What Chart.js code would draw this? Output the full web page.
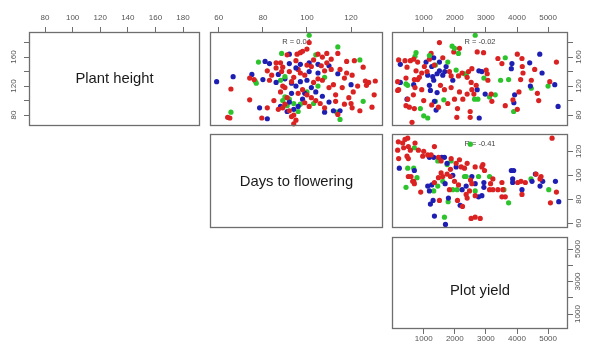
<!DOCTYPE html>
<html><head><meta charset="utf-8">
<script src="https://cdn.jsdelivr.net/npm/chart.js@4.4.1/dist/chart.umd.min.js"></script>
<style>
html,body{margin:0;padding:0;background:#fff;width:589px;height:348px;overflow:hidden;}
#wrap{position:relative;width:589px;height:348px;}
canvas{position:absolute;}
</style></head><body><div id="wrap"></div>
<script>
// ---------- data ----------
const variableNames = ['Plant height', 'Days to flowering', 'Plot yield'];
const corrLabels = ['R = 0.04', 'R = -0.02', 'R = -0.41'];
const heightTicks = [80, 100, 120, 140, 160, 180];
const heightSideLabels = [80, 120, 160];
const daysTicks = [60, 80, 100, 120];
const yieldTicks = [1000, 2000, 3000, 4000, 5000];
const yieldSideLabels = [1000, 3000, 5000];
const heightRangeX = [68.4, 192.3];
const heightRangeY = [65, 194.5];
const daysRange = [56, 134.5];
const yieldRangeX = [-20, 5640];
const yieldRangeY = [77, 5739];

// Plant height (y) vs days to flowering (x): [days, height]
const htDays_red = [[64,77],[65,76],[65.5,116],[74,101],[82,90],[79.5,76],[82,141],[76,129],[83,128],[74,131],[86,152],[88,152],[91,163],[95.5,164],[97,166],[98,168],[100,171],[101,180],[105,164],[109,165],[114,165],[118,154],[121.5,155],[125.5,146],[86,145],[88.5,140],[89,146],[96,143],[100,149],[102,147],[106.5,148],[109,152],[108,141],[111,143],[115,143],[118,138],[117,131],[120.5,135],[126.5,127],[128,125],[127,121],[131,127],[130.5,108],[121,112],[129.5,91],[124,86],[120,96],[120.5,90],[117,95],[114,81],[113,99],[89,120],[90,118],[88,112],[91,104],[90,95],[89,90],[92,86],[93,78],[95,73],[94,80],[96,110],[98,115],[100,108],[102,104],[104,100],[106,96],[108,90],[103,125],[105,130],[107,128],[110,118],[112,122],[99,135],[97,138],[94,132],[93,126],[92,140],[101,92],[99,97],[85,100],[87,88],[113,108],[116,118],[119,104],[123,120],[84,135],[95,155],[111,157],[107,160],[103,156],[94,68]];
const htDays_blue = [[59,126],[66.5,133],[78.5,90],[82,75],[81,154],[83,151],[75,136],[80,129],[92,151],[92,164],[97,150],[101,152],[105,150],[110,148],[114,137],[115,86],[110,98],[87,136],[90,130],[93,124],[95,120],[97,126],[100,128],[102,118],[98,102],[96,92],[92,98],[91,85],[94,88],[104,112],[107,106],[108,84],[112,86],[88,92],[101,140],[105,138],[95,145],[120,122],[86,125],[99,110],[93,110]];
const htDays_green = [[65.5,84],[78,153],[76.5,127],[77,124],[88.5,165],[101,190],[104,163],[114,174],[124,156],[125.5,99],[115,74],[113.5,84],[89,100],[90,105],[92,102],[94,96],[97,95],[100,112],[88,128],[90,133],[105,120],[108,132],[103,96],[96,85],[91,93]];

// Plant height (y) vs plot yield (x): [yield, height]
const htYield_red = [[1505,180],[1968,167],[2150,172],[2720,167],[2924,166],[194,156],[398,155],[570,155],[463,146],[677,157],[806,153],[1183,157],[1237,165],[1613,159],[1344,149],[1021,147],[753,141],[936,138],[1107,140],[860,132],[699,129],[430,131],[162,126],[162,114],[806,129],[1828,140],[1882,134],[2118,134],[2236,138],[2440,140],[2548,144],[2397,132],[3010,142],[3042,137],[3064,128],[2526,125],[2688,121],[2548,115],[2613,109],[3170,109],[3192,99],[3386,158],[3515,151],[4010,164],[4160,158],[4170,147],[4193,138],[4117,129],[4063,112],[3870,101],[3623,93],[4010,88],[4569,143],[4461,128],[4655,110],[4698,100],[5053,126],[5268,153],[484,102],[430,93],[538,91],[699,89],[624,70],[1000,100],[1258,94],[1473,91],[1774,96],[1990,102],[2258,102],[2397,109],[2086,89],[2065,77],[2494,85],[2494,77],[2150,112],[1882,118],[1667,115],[1538,121],[936,115],[720,118],[667,108],[194,115]];
const htYield_blue = [[248,150],[1075,153],[1322,159],[1505,153],[1720,147],[1258,147],[1129,135],[248,125],[677,122],[1290,133],[1322,128],[1430,137],[1505,141],[1613,135],[1677,140],[1935,128],[2774,141],[2870,140],[2720,115],[2977,109],[3817,144],[3837,151],[4408,152],[3924,108],[3900,97],[4430,120],[4731,164],[4806,138],[5214,122],[5321,92],[1344,99],[1398,87],[2785,76],[1215,114],[1430,111],[1183,121],[463,102]];
const htYield_green = [[2655,190],[1914,175],[1990,172],[2118,165],[753,166],[720,161],[1774,153],[1376,149],[2043,142],[2311,137],[2365,136],[2935,131],[430,123],[484,121],[2635,102],[2741,102],[3117,105],[3300,108],[3472,128],[3730,129],[3623,159],[3892,85],[4461,117],[4999,120],[892,89],[1000,79],[1129,76],[1376,99],[1645,101],[1183,162]];

// Days to flowering (y) vs plot yield (x): [yield, days]
const daysYield_red = [[183,128],[323,127],[398,130],[484,131],[162,121],[355,123],[505,124],[720,127],[570,121],[828,121],[1000,120],[968,116],[194,114],[505,114],[463,116],[1344,124],[1129,117],[1473,115],[1559,112],[1237,117],[1882,114],[2150,113],[2043,110],[2397,110],[2311,106],[1860,105],[2204,107],[2655,107],[2870,107],[2903,109],[2956,104],[3117,88],[3224,88],[3386,88],[3515,94],[3547,88],[3515,82],[3623,82],[4020,94],[4160,84],[4128,95],[4268,94],[4612,101],[4773,99],[4741,97],[5268,86],[5075,77],[5128,131],[505,99],[591,99],[677,95],[699,93],[645,95],[903,86],[1344,94],[1473,98],[1559,102],[1613,99],[1752,101],[1860,99],[1990,95],[1828,88],[2118,92],[2505,96],[2472,87],[2548,93],[2365,84],[2397,81],[3150,93],[3224,97],[1505,79],[2247,74],[2526,64],[2655,65],[2817,64],[2086,79],[2655,83]];
const daysYield_blue = [[1183,115],[1322,115],[1581,115],[1667,115],[1752,110],[2043,107],[2548,99],[2655,93],[2935,94],[2935,90],[3817,104],[3892,104],[3860,97],[3860,94],[4160,88],[4483,95],[4590,101],[4741,91],[4827,95],[5236,95],[5343,78],[215,106],[699,104],[1129,91],[1258,92],[1688,93],[1935,100],[2236,88],[2365,91],[2763,82],[2870,83],[1301,79],[2172,75],[1344,66],[1699,59],[1795,81],[1183,87],[1215,76]];
const daysYield_green = [[699,123],[1452,112],[1882,112],[1752,109],[2311,99],[2365,99],[2763,99],[3117,99],[3580,88],[3730,77],[4450,97],[5021,88],[484,106],[677,106],[785,98],[430,90],[1452,91],[1322,87],[1613,95],[1935,88],[2075,88],[2655,87],[1785,78],[1667,65],[2500,126]];

// ---------- layout / style ----------
const COLOR = {red:'#da2222', blue:'#1e1eb2', green:'#2cc32c'};
const colL = [29, 210, 392], colW = [171, 173, 176];
const rowT = [32, 134, 237], rowH = [94, 94, 92];
const PAD = 12, AXH = 30, AXW = 30;
const TICK_FONT = {family:"'Liberation Sans Narrow','Arial Narrow','Liberation Sans',Arial,sans-serif", size:8};

function mixPoints(red, blue, green){
  const pts = [], cols = [];
  const n = Math.max(red.length, blue.length, green.length);
  for (let i = 0; i < n; i++){
    [[red,'red'],[blue,'blue'],[green,'green']].forEach(([arr,c]) => {
      if (i < arr.length){ pts.push({x:arr[i][0], y:arr[i][1]}); cols.push(COLOR[c]); }
    });
  }
  return {pts, cols};
}

const deco = {
  id:'deco',
  beforeDatasetsDraw(chart, args, o){
    const a = chart.chartArea, ctx = chart.ctx;
    ctx.save();
    ctx.textAlign = 'center'; ctx.textBaseline = 'middle';
    if (o.corr){
      ctx.font = '7.5px "Liberation Sans", Arial, sans-serif';
      ctx.fillStyle = '#444';
      ctx.fillText(o.corr, (a.left + a.right)/2, a.top + 10);
    }
    if (o.name){
      ctx.font = '14.8px "Liberation Sans", Arial, sans-serif';
      ctx.fillStyle = '#1a1a1a';
      ctx.fillText(o.name, (a.left + a.right)/2, a.top + o.nameDy);
    }
    ctx.restore();
  },
  afterDraw(chart){
    const a = chart.chartArea, ctx = chart.ctx;
    ctx.save();
    ctx.strokeStyle = '#6e6e6e'; ctx.lineWidth = 1.3;
    ctx.strokeRect(Math.round(a.left)+0.5, Math.round(a.top)+0.5, Math.round(a.right-a.left)-1, Math.round(a.bottom-a.top)-1);
    ctx.restore();
  }
};

function scaleCfg(ax, horizontal){
  return {
    type:'linear', min:ax.range[0], max:ax.range[1],
    display: !!ax.pos,
    position: ax.pos || (horizontal ? 'bottom' : 'left'),
    afterBuildTicks: s => { s.ticks = ax.ticks.map(v => ({value:v})); },
    afterFit: s => {
      if (!ax.pos) { s.width = 0; s.height = 0; return; }
      if (horizontal) s.height = AXH; else s.width = AXW;
    },
    grid:{display:true, drawOnChartArea:false, drawTicks:true, tickLength:5, color:'#6e6e6e', lineWidth:1},
    border:{display:false},
    ticks:{
      autoSkip:false, font:TICK_FONT, color:'#555', padding:(ax.pad ?? 3),
      minRotation: horizontal ? 0 : 90, maxRotation: horizontal ? 0 : 90,
      crossAlign: horizontal ? 'near' : 'center',
      callback: v => ax.labels.includes(v) ? String(v) : ''
    }
  };
}

function panel(p){
  const L = colL[p.col], W = colW[p.col], T = rowT[p.row], H = rowH[p.row];
  const xTop = p.x.pos === 'top', xBot = p.x.pos === 'bottom';
  const yL = p.y.pos === 'left', yR = p.y.pos === 'right';
  const left = L - PAD - (yL ? AXW : 0), top = T - PAD - (xTop ? AXH : 0);
  const w = 2*PAD + W + (yL || yR ? AXW : 0), h = 2*PAD + H + (xTop || xBot ? AXH : 0);
  const cv = document.createElement('canvas');
  cv.width = w; cv.height = h;
  cv.style.left = left + 'px'; cv.style.top = top + 'px';
  cv.style.width = w + 'px'; cv.style.height = h + 'px';
  document.getElementById('wrap').appendChild(cv);
  const m = p.data ? mixPoints(...p.data) : {pts:[], cols:[]};
  new Chart(cv, {
    type:'scatter',
    data:{datasets:[{data:m.pts, backgroundColor:m.cols, pointRadius:2.6, pointHoverRadius:2.6, borderWidth:0, clip:false}]},
    options:{
      responsive:false, animation:false, devicePixelRatio:1,
      layout:{padding:PAD},
      plugins:{legend:{display:false}, tooltip:{enabled:false}, deco:{corr:p.corr, name:p.name, nameDy:p.nameDy}},
      scales:{x:scaleCfg(p.x, true), y:scaleCfg(p.y, false)}
    },
    plugins:[deco]
  });
}

// Diagonal: Plant height
panel({col:0,row:0, name:variableNames[0], nameDy:47,
  x:{range:heightRangeX, ticks:heightTicks, labels:heightTicks, pos:'top', pad:4},
  y:{range:heightRangeY, ticks:heightTicks, labels:heightSideLabels, pos:'left', pad:4}});
// Plant height vs Days to flowering
panel({col:1,row:0, corr:corrLabels[0], data:[htDays_red, htDays_blue, htDays_green],
  x:{range:daysRange, ticks:daysTicks, labels:daysTicks, pos:'top', pad:4},
  y:{range:heightRangeY, ticks:heightTicks, labels:[], pos:null}});
// Plant height vs Plot yield
panel({col:2,row:0, corr:corrLabels[1], data:[htYield_red, htYield_blue, htYield_green],
  x:{range:yieldRangeX, ticks:yieldTicks, labels:yieldTicks, pos:'top', pad:4},
  y:{range:heightRangeY, ticks:heightTicks, labels:heightSideLabels, pos:'right', pad:-1}});
// Diagonal: Days to flowering
panel({col:1,row:1, name:variableNames[1], nameDy:48,
  x:{range:daysRange, ticks:daysTicks, labels:[], pos:null},
  y:{range:daysRange, ticks:daysTicks, labels:[], pos:null}});
// Days to flowering vs Plot yield
panel({col:2,row:1, corr:corrLabels[2], data:[daysYield_red, daysYield_blue, daysYield_green],
  x:{range:yieldRangeX, ticks:yieldTicks, labels:[], pos:null},
  y:{range:daysRange, ticks:daysTicks, labels:daysTicks, pos:'right', pad:-1}});
// Diagonal: Plot yield
panel({col:2,row:2, name:variableNames[2], nameDy:54,
  x:{range:yieldRangeX, ticks:yieldTicks, labels:yieldTicks, pos:'bottom', pad:0},
  y:{range:yieldRangeY, ticks:yieldTicks, labels:yieldSideLabels, pos:'right', pad:-4}});
</script>
</body></html>
